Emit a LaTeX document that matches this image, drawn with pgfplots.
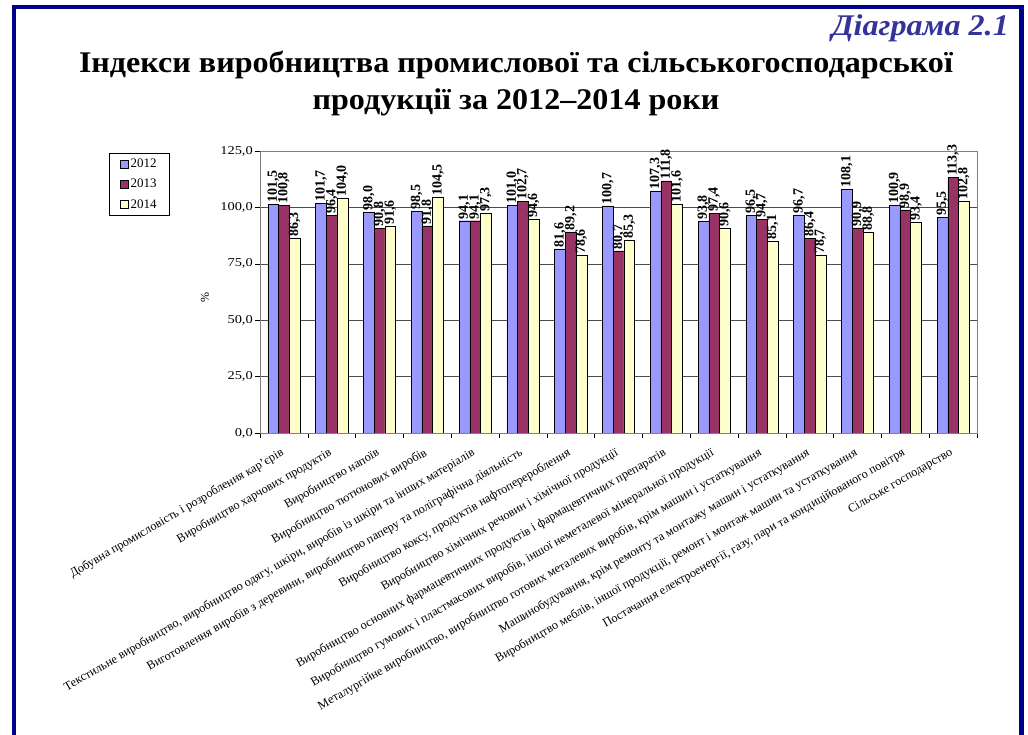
\documentclass[border=0pt]{standalone}
\usepackage{fontspec}
\setmainfont{Liberation Serif}
\newfontfamily\widefont{Liberation Serif}[FakeStretch=1.2]
\usepackage{pgfplots}
\pgfplotsset{compat=1.18}

\definecolor{frameblue}{RGB}{0,0,140}
\definecolor{capblue}{RGB}{51,51,153}
\definecolor{c2012}{RGB}{153,153,255}
\definecolor{c2013}{RGB}{153,51,102}
\definecolor{c2014}{RGB}{255,255,204}

\begin{document}
\begin{tikzpicture}
\useasboundingbox (0pt,0pt) rectangle (1028pt,735pt);
\draw[line width=4.5pt, frameblue] (14pt,0pt) -- (14pt,728pt) -- (1021.5pt,728pt) -- (1021.5pt,0pt);

\node[anchor=base east, font=\bfseries\itshape\fontsize{30}{34}\selectfont, text=capblue, inner sep=0pt]
  at (1009pt,699pt) {\scalebox{1.07}[1]{Діаграма 2.1}};
\node[anchor=base, font=\bfseries\fontsize{30}{34}\selectfont, inner sep=0pt]
  at (516pt,662pt) {\scalebox{1.07}[1]{Індекси виробництва промислової та сільськогосподарської}};
\node[anchor=base, font=\bfseries\fontsize{30}{34}\selectfont, inner sep=0pt]
  at (516pt,625pt) {\scalebox{1.07}[1]{продукції за 2012–2014 роки}};

\begin{axis}[
  at={(260pt,302pt)}, anchor=south west,
  scale only axis, width=717pt, height=282pt,
  ybar=0pt, bar width=10.7pt,
  xmin=-0.5, xmax=14.5, ymin=0, ymax=125,
  ytick={0,25,...,125},
  xtick={0,...,14},
  minor xtick={-0.5,0.5,...,14.5},
  major x tick style={draw=none},
  tick align=outside, tick pos=left,
  major tick length=5pt, minor tick length=5pt,
  tick style={black, thin},
  ymajorgrids, grid style={black!70, thin},
  axis line style={black!50},
  /pgf/number format/.cd, use comma, fixed, fixed zerofill, precision=1, 1000 sep={}, assume math mode=true,
  /pgfplots/.cd,
  yticklabel style={font=\widefont\fontsize{12}{14}\selectfont, inner sep=2pt},
  ylabel={\%}, ylabel style={at={(axis description cs:-0.0767,0.482)}, anchor=center,
    font=\fontsize{12}{14}\selectfont},
  xticklabel style={rotate=30, anchor=north east, font=\fontsize{12.3}{14}\selectfont,
    inner sep=1pt, xshift=-7pt, yshift=-5pt},
  xticklabels={
    {Добувна промисловість і розроблення кар'єрів},
    {Виробництво харчових продуктів},
    {Виробництво напоїв},
    {Виробництво тютюнових виробів},
    {Текстильне виробництво, виробництво одягу, шкіри, виробів із шкіри та інших матеріалів},
    {Виготовлення виробів з деревини, виробництво паперу та поліграфічна діяльність},
    {Виробництво коксу, продуктів нафтоперероблення},
    {Виробництво хімічних речовин і хімічної продукції},
    {Виробництво основних фармацевтичних продуктів і фармацевтичних препаратів},
    {Виробництво гумових і пластмасових виробів, іншої неметалевої мінеральної продукції},
    {Металургійне виробництво, виробництво готових металевих виробів, крім машин і устаткування},
    {Машинобудування, крім ремонту та монтажу машин і устаткування},
    {Виробництво меблів, іншої продукції, ремонт і монтаж машин та устаткування},
    {Постачання електроенергії, газу, пари та кондиційованого повітря},
    {Сільське господарство}},
  nodes near coords,
  every node near coord/.append style={rotate=90, anchor=west, inner sep=1.5pt,
    font=\bfseries\fontsize{14}{16}\selectfont},
  legend style={at={(-0.2106,0.993)}, anchor=north west, draw=black,
    font=\fontsize{13}{15}\selectfont, row sep=6pt, inner xsep=11pt, inner ysep=4pt,
    cells={anchor=west}},
  legend image code/.code={\draw[#1, draw=black] (0pt,-4pt) rectangle (8pt,4pt);},
]
\addplot[fill=c2012, draw=black] coordinates {
(0,101.5) (1,101.7) (2,98.0) (3,98.5) (4,94.1) (5,101.0) (6,81.6) (7,100.7)
(8,107.3) (9,93.8) (10,96.5) (11,96.7) (12,108.1) (13,100.9) (14,95.5)};
\addplot[fill=c2013, draw=black] coordinates {
(0,100.8) (1,96.4) (2,90.8) (3,91.8) (4,94.1) (5,102.7) (6,89.2) (7,80.7)
(8,111.8) (9,97.4) (10,94.7) (11,86.4) (12,90.9) (13,98.9) (14,113.3)};
\addplot[fill=c2014, draw=black] coordinates {
(0,86.3) (1,104.0) (2,91.6) (3,104.5) (4,97.3) (5,94.6) (6,78.6) (7,85.3)
(8,101.6) (9,90.6) (10,85.1) (11,78.7) (12,88.8) (13,93.4) (14,102.8)};
\legend{2012,2013,2014}
\end{axis}
\end{tikzpicture}
\end{document}
